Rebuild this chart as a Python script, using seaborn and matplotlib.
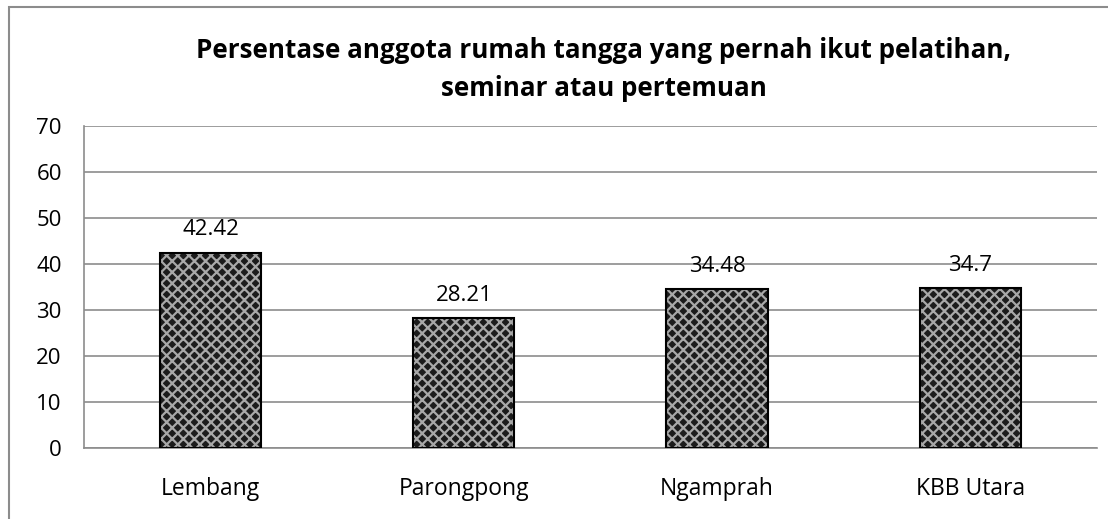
import matplotlib
matplotlib.use("Agg")
import matplotlib.pyplot as plt
import seaborn as sns
import pandas as pd
import numpy as np
from matplotlib.patches import Rectangle

categories = ["Lembang", "Parongpong", "Ngamprah", "KBB Utara"]
values = [42.42, 28.21, 34.48, 34.7]
value_labels = ["42.42", "28.21", "34.48", "34.7"]
yticks = [0, 10, 20, 30, 40, 50, 60, 70]
title = "Persentase anggota rumah tangga yang pernah ikut pelatihan,\nseminar atau pertemuan"

sns.set_theme(style="white")
plt.rcParams['font.family'] = ['Open Sans', 'DejaVu Sans']
plt.rcParams['hatch.linewidth'] = 1.6

df = pd.DataFrame({"cat": categories, "val": values})

fig = plt.figure(figsize=(11.08, 5.19), dpi=100)
ax = fig.add_axes([0.0758, 0.1368, 0.9142, 0.6204])

sns.barplot(data=df, x="cat", y="val", ax=ax, color="#1c1c1c", width=0.4,
            saturation=1, order=categories)

for p in list(ax.patches):
    p.set_hatch("xxx")
    p.set_edgecolor("#a8a8a8")
    p.set_linewidth(0)
    p.set_zorder(3)
    ax.add_patch(Rectangle(p.get_xy(), p.get_width(), p.get_height(),
                           fill=False, edgecolor="black", linewidth=1.5, zorder=4))

for p, lab in zip(ax.patches[:len(categories)], value_labels):
    ax.text(p.get_x() + p.get_width() / 2, p.get_height() + 2.7, lab,
            ha="center", va="bottom", fontsize=16, color="black")

ax.set_ylim(0, 70)
ax.set_xlim(-0.5, len(categories) - 0.5)
ax.set_yticks(yticks)
ax.set_yticklabels([str(t) for t in yticks], fontsize=16, color="black")
ax.set_xticks(range(len(categories)))
ax.set_xticklabels(categories, fontsize=16.5, color="black")
ax.set_xticks(np.arange(-0.5, len(categories), 1.0), minor=True)
ax.tick_params(axis="x", which="major", length=0, pad=21)
ax.tick_params(axis="x", which="minor", length=7, width=1.2, color="#8c8c8c", direction="out")
ax.tick_params(axis="y", length=7, width=1.2, color="#8c8c8c", direction="out", pad=9)
ax.set_xlabel("")
ax.set_ylabel("")

ax.yaxis.grid(True, color="#8c8c8c", linewidth=1.2)
ax.set_axisbelow(True)
for s in ["top", "right"]:
    ax.spines[s].set_visible(False)
for s in ["left", "bottom"]:
    ax.spines[s].set_color("#8c8c8c")
    ax.spines[s].set_linewidth(1.2)

fig.text(0.545, 0.866, title, ha="center", va="center", fontsize=18.7,
         fontweight="bold", color="black", linespacing=1.55)

fig.add_artist(Rectangle((0.0085, -0.05), 1.1, 1.037, transform=fig.transFigure,
                         fill=False, edgecolor="#8c8c8c", linewidth=1.5))

fig.savefig("out.png", dpi=100)
